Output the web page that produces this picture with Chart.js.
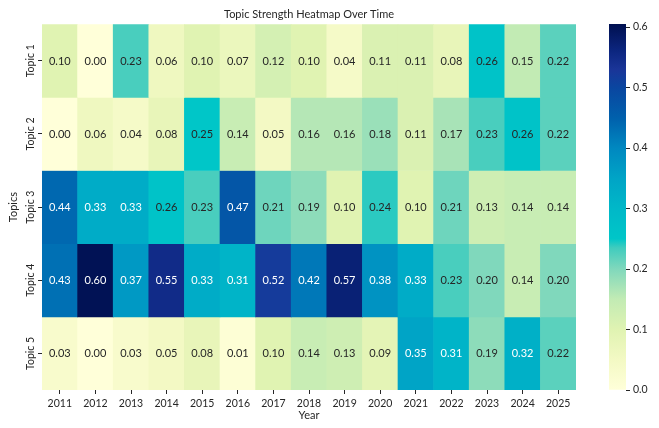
<!DOCTYPE html>
<html>
<head>
<meta charset="utf-8">
<title>Topic Strength Heatmap Over Time</title>
<script src="https://cdn.jsdelivr.net/npm/chart.js@4/dist/chart.umd.min.js"></script>
<style>
  html, body { margin: 0; padding: 0; background: #fff; }
  #wrap { position: relative; width: 659px; height: 428px; overflow: hidden; }
  #heat { position: absolute; left: 0; top: 0; }
  #cbar { position: absolute; left: 600px; top: 0; }
</style>
</head>
<body>
<div id="wrap">
  <canvas id="heat" width="659" height="428"></canvas>
  <canvas id="cbar" width="59" height="428"></canvas>
</div>
<script>
/* Topic strength heatmap: 5 topics x 15 years, colour bar on the right. */
var topics = ["Topic 1", "Topic 2", "Topic 3", "Topic 4", "Topic 5"];
var years = ["2011", "2012", "2013", "2014", "2015", "2016", "2017", "2018",
             "2019", "2020", "2021", "2022", "2023", "2024", "2025"];

var topic1 = [0.10, 0.00, 0.23, 0.06, 0.10, 0.07, 0.12, 0.10, 0.04, 0.11, 0.11, 0.08, 0.26, 0.15, 0.22];
var topic2 = [0.00, 0.06, 0.04, 0.08, 0.25, 0.14, 0.05, 0.16, 0.16, 0.18, 0.11, 0.17, 0.23, 0.26, 0.22];
var topic3 = [0.44, 0.33, 0.33, 0.26, 0.23, 0.47, 0.21, 0.19, 0.10, 0.24, 0.10, 0.21, 0.13, 0.14, 0.14];
var topic4 = [0.43, 0.60, 0.37, 0.55, 0.33, 0.31, 0.52, 0.42, 0.57, 0.38, 0.33, 0.23, 0.20, 0.14, 0.20];
var topic5 = [0.03, 0.00, 0.03, 0.05, 0.08, 0.01, 0.10, 0.14, 0.13, 0.09, 0.35, 0.31, 0.19, 0.32, 0.22];
var strength = [topic1, topic2, topic3, topic4, topic5];

var colorbarTicks = [0.0, 0.1, 0.2, 0.3, 0.4, 0.5, 0.6];
var VMIN = 0, VMAX = 0.605;

var INK = "#262626";
var FONT = "Lato, 'DejaVu Sans', sans-serif";

/* Colour stops (value -> colour). */
var cmapStops = [
  [0.000, "#ffffd9"],
  [0.050, "#f3f9c4"],
  [0.100, "#e0f3b2"],
  [0.150, "#c2ebb4"],
  [0.200, "#80d8bc"],
  [0.235, "#40ccbe"],
  [0.250, "#00c6c8"],
  [0.300, "#00b8c8"],
  [0.350, "#00a4c6"],
  [0.400, "#0088c0"],
  [0.450, "#0060ac"],
  [0.500, "#0a46a0"],
  [0.530, "#1a3598"],
  [0.560, "#0c2680"],
  [0.605, "#001050"]
];

function hexRgb(h) {
  return [parseInt(h.substr(1, 2), 16), parseInt(h.substr(3, 2), 16), parseInt(h.substr(5, 2), 16)];
}
function cmapRgb(v) {
  if (v <= cmapStops[0][0]) return hexRgb(cmapStops[0][1]);
  for (var i = 1; i < cmapStops.length; i++) {
    if (v <= cmapStops[i][0]) {
      var a = cmapStops[i - 1], b = cmapStops[i];
      var r = (v - a[0]) / (b[0] - a[0]);
      var ca = hexRgb(a[1]), cb = hexRgb(b[1]);
      return ca.map(function (c, k) { return Math.round(c + r * (cb[k] - c)); });
    }
  }
  return hexRgb(cmapStops[cmapStops.length - 1][1]);
}
function cmap(v) {
  var c = cmapRgb(v);
  return "rgb(" + c[0] + "," + c[1] + "," + c[2] + ")";
}
/* seaborn-style text colour choice: relative luminance of the cell */
function luminance(rgb) {
  var l = rgb.map(function (c) {
    c = c / 255;
    return c <= 0.03928 ? c / 12.92 : Math.pow((c + 0.055) / 1.055, 2.4);
  });
  return 0.2126 * l[0] + 0.7152 * l[1] + 0.0722 * l[2];
}

Chart.defaults.font.family = FONT;
Chart.defaults.color = INK;

var cellLabels = {
  id: "cellLabels",
  afterDatasetsDraw: function (chart) {
    var ctx = chart.ctx;
    ctx.save();
    ctx.font = "11px " + FONT;
    ctx.textAlign = "center";
    ctx.textBaseline = "middle";
    chart.data.datasets.forEach(function (ds, i) {
      chart.getDatasetMeta(i).data.forEach(function (bar, j) {
        var v = strength[i][j];
        ctx.fillStyle = luminance(cmapRgb(v)) > 0.408 ? INK : "#ffffff";
        ctx.fillText(v.toFixed(2), bar.x, (bar.y + bar.base) / 2 + 0.5);
      });
    });
    ctx.restore();
  }
};

new Chart(document.getElementById("heat"), {
  type: "bar",
  data: {
    labels: years,
    datasets: strength.map(function (row, i) {
      return {
        label: topics[i],
        data: row.map(function () { return [i, i + 1]; }),
        backgroundColor: row.map(cmap),
        borderWidth: 0,
        barPercentage: 1,
        categoryPercentage: 1,
        grouped: false
      };
    })
  },
  options: {
    responsive: false,
    animation: false,
    layout: { padding: { left: 0, right: 83, top: 0, bottom: 0 } },
    plugins: {
      legend: { display: false },
      tooltip: { enabled: false },
      title: {
        display: true, text: "Topic Strength Heatmap Over Time", fullSize: false,
        color: INK, font: { size: 11, weight: "normal" }, padding: { top: 8, bottom: 3 }
      }
    },
    scales: {
      x: {
        type: "category",
        grid: { display: true, offset: false, drawOnChartArea: false, tickLength: 4, color: INK },
        border: { display: false },
        ticks: { color: INK, font: { size: 10.5 }, padding: 3, maxRotation: 0, autoSkip: false },
        title: { display: true, text: "Year", color: INK, font: { size: 11 }, padding: { top: 0, bottom: 6 } },
        afterFit: function (s) { s.height = 38; }
      },
      y: {
        type: "linear", min: 0, max: 5, reverse: true,
        afterBuildTicks: function (s) {
          s.ticks = topics.map(function (t, i) { return { value: i + 0.5 }; });
        },
        grid: { display: true, drawOnChartArea: false, tickLength: 4, color: INK },
        border: { display: false },
        ticks: {
          color: INK, font: { size: 10.5 }, minRotation: 90, maxRotation: 90,
          crossAlign: "center", padding: -9,
          callback: function (v, idx) { return topics[idx]; }
        },
        title: { display: true, text: "Topics", color: INK, font: { size: 11 }, padding: { top: 7, bottom: 0 } },
        afterFit: function (s) { s.width = 42; }
      }
    }
  },
  plugins: [cellLabels]
});

/* Colour bar: one floating bar from VMIN to VMAX filled with the colour map. */
new Chart(document.getElementById("cbar"), {
  type: "bar",
  data: {
    labels: [""],
    datasets: [{
      data: [[VMIN, VMAX]],
      backgroundColor: function (c) {
        var a = c.chart.chartArea;
        if (!a) return "#ffffff";
        var g = c.chart.ctx.createLinearGradient(0, a.bottom, 0, a.top);
        cmapStops.forEach(function (s) { g.addColorStop((s[0] - VMIN) / (VMAX - VMIN), s[1]); });
        return g;
      },
      borderWidth: 0,
      barPercentage: 1,
      categoryPercentage: 1
    }]
  },
  options: {
    responsive: false,
    animation: false,
    layout: { padding: { left: 9, right: 0, top: 24, bottom: 38 } },
    plugins: { legend: { display: false }, tooltip: { enabled: false } },
    scales: {
      x: { display: false },
      y: {
        position: "right", min: VMIN, max: VMAX,
        afterBuildTicks: function (s) {
          s.ticks = colorbarTicks.map(function (v) { return { value: v }; });
        },
        grid: { display: true, drawOnChartArea: false, tickLength: 4, color: INK },
        border: { display: false },
        ticks: { color: INK, font: { size: 10.5 }, padding: 3, callback: function (v) { return v.toFixed(1); } },
        afterFit: function (s) { s.width = 33; }
      }
    }
  }
});
</script>
</body>
</html>
